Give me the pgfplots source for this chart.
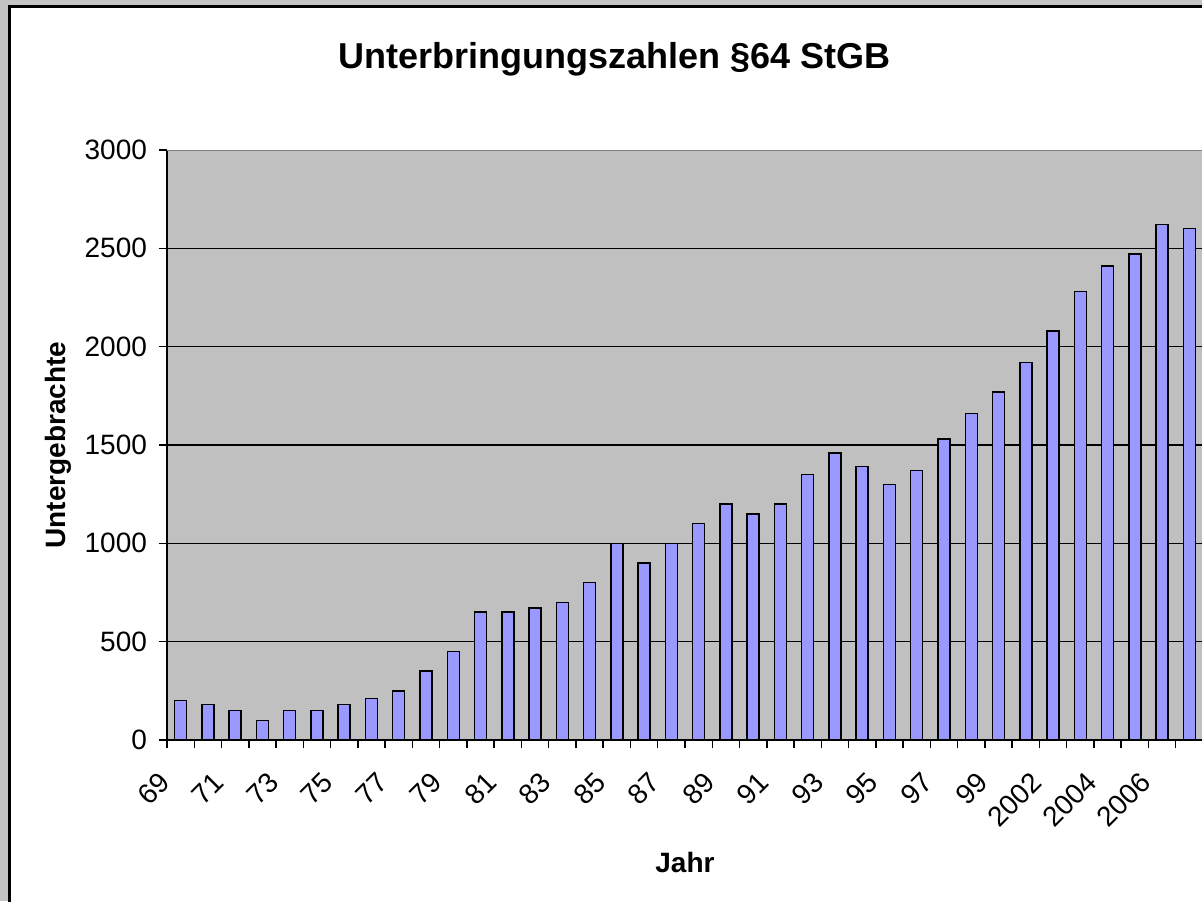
\documentclass[border=0pt]{standalone}
\usepackage{pgfplots}
\pgfplotsset{compat=1.18}
\usepackage{pgfplotstable}
\usepackage{fontspec}
\setmainfont{Liberation Sans}
\definecolor{barfill}{HTML}{9999FF}
\definecolor{plotbg}{HTML}{C0C0C0}
\definecolor{framegray}{HTML}{C4C4C4}
\definecolor{topline}{HTML}{808080}
\pgfplotstableread{
idx year value
0 69 200
1 70 180
2 71 150
3 72 100
4 73 150
5 74 150
6 75 180
7 76 210
8 77 250
9 78 350
10 79 450
11 80 650
12 81 650
13 82 670
14 83 700
15 84 800
16 85 1000
17 86 900
18 87 1000
19 88 1100
20 89 1200
21 90 1150
22 91 1200
23 92 1350
24 93 1460
25 94 1390
26 95 1300
27 96 1370
28 97 1530
29 98 1660
30 99 1770
31 2001 1920
32 2002 2080
33 2003 2280
34 2004 2410
35 2005 2470
36 2006 2620
37 2007 2600
}\datatable
\begin{document}
\begin{tikzpicture}
\useasboundingbox (-83.5pt,-80.5pt) rectangle (517.5pt,370pt);
\clip (-83.5pt,-80.5pt) rectangle (517.5pt,370pt);
\begin{scope}[x=0.5pt,y=0.5pt]
\fill[framegray] (-167,-161) rectangle (1035,740);
\fill[white] (-158,-175) rectangle (1060,734);
\draw[line width=1.25pt] (-157.5,-175) -- (-157.5,733.5) -- (1060,733.5);
\end{scope}
\begin{axis}[
  anchor=south west,
  scale only axis, width=518pt, height=295pt,
  xmin=-0.5, xmax=37.5, ymin=0, ymax=3000,
  ytick={0,500,...,2500},
  extra y ticks={3000},
  extra y tick style={grid=none},
  scaled y ticks=false,
  ymajorgrids, grid style={black, line width=0.75pt},
  axis x line*=bottom, axis y line*=left,
  axis line style={line width=0.75pt, -},
  axis background/.style={fill=plotbg},
  tick align=outside, major tick length=4pt, minor tick length=4pt,
  tick style={black, line width=0.75pt},
  xtick={0,2,...,36},
  xticklabels={69,71,73,75,77,79,81,83,85,87,89,91,93,95,97,99,2002,2004,2006},
  every major x tick/.append style={draw=none},
  minor xtick={-0.5,0.5,...,37.5},
  xticklabel style={xshift=-7.3pt, yshift=-14.1pt, rotate=45, anchor=east, font=\fontsize{14}{16}\selectfont, inner sep=1pt},
  yticklabel style={font=\fontsize{14}{16}\selectfont, /pgf/number format/1000 sep={}, xshift=-2.5pt},
  /pgf/number format/assume math mode=true,
  xlabel={Jahr}, ylabel={Untergebrachte},
  xlabel style={font=\bfseries\fontsize{14}{16}\selectfont, at={(axis description cs:0.5,-0.207)}, anchor=center},
  ylabel style={font=\bfseries\fontsize{14}{16}\selectfont, at={(axis description cs:-0.105,0.5)}, anchor=center},
  title={Unterbringungszahlen \S64 StGB},
  title style={font=\bfseries\fontsize{18}{21}\selectfont, at={(axis description cs:0.432,1.133)}, anchor=center},
]
\addplot[ybar, bar width=0.44, fill=barfill, draw=black, line width=0.75pt] table[x=idx, y=value] {\datatable};
\draw[topline, line width=0.75pt] (rel axis cs:0,1) -- (rel axis cs:1,1);
\end{axis}
\end{tikzpicture}
\end{document}
